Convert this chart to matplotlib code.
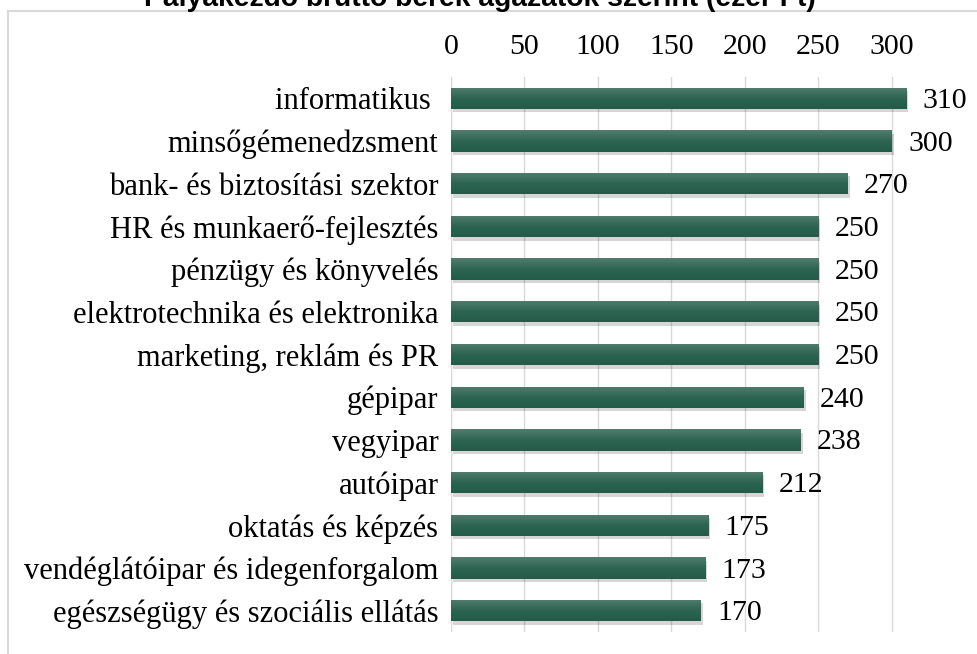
import matplotlib
matplotlib.use("Agg")
import matplotlib.pyplot as plt
import numpy as np
from matplotlib.patches import Rectangle
from matplotlib.lines import Line2D
from matplotlib.colors import LinearSegmentedColormap

categories = [
    "informatikus ",
    "minsőgémenedzsment",
    "bank- és biztosítási szektor",
    "HR és munkaerő-fejlesztés",
    "pénzügy és könyvelés",
    "elektrotechnika és elektronika",
    "marketing, reklám és PR",
    "gépipar",
    "vegyipar",
    "autóipar",
    "oktatás és képzés",
    "vendéglátóipar és idegenforgalom",
    "egészségügy és szociális ellátás",
]
values = [310, 300, 270, 250, 250, 250, 250, 240, 238, 212, 175, 173, 170]
ticks = [0, 50, 100, 150, 200, 250, 300]
title = "Pályakezdő bruttó bérek ágazatok szerint (ezer Ft)"

W, H = 978, 654
fig = plt.figure(figsize=(W / 100, H / 100), dpi=100)

# outer frame
fig.add_artist(Line2D([8 / W, 8 / W], [0, 1 - 11 / H], transform=fig.transFigure,
                      color="#d9d9d9", lw=1.5))
fig.add_artist(Line2D([8 / W, 1], [1 - 11 / H, 1 - 11 / H], transform=fig.transFigure,
                      color="#d9d9d9", lw=1.5))

# title (partially cut off at top, as in the reference)
fig.text(480 / W, 1 - 6 / H, title, ha="center", va="baseline",
         fontsize=20.3, fontweight="bold", family="Liberation Sans", color="#000000")

left, right = 451, 950
top, bottom = 77, 632
ax = fig.add_axes([left / W, 1 - bottom / H, (right - left) / W, (bottom - top) / H])

n = len(categories)
ys = list(range(n))
xmax = 300 * (right - left) / (892 - 451)

bh = 0.5
# shadow
for y, v in zip(ys, values):
    ax.add_patch(Rectangle((1.2, y - bh / 2 + 0.08), v, bh, color="#000000",
                           alpha=0.16, lw=0, zorder=2))
bars = ax.barh(ys, values, height=bh, color="#275e4d", zorder=3)
# vertical gradient inside each bar (lighter top -> darker bottom)
grad = np.linspace(0, 1, 64).reshape(-1, 1)
cmap = LinearSegmentedColormap.from_list("g", ["#527d6f", "#2d6452", "#235b49"])
for b in bars:
    x0, y0 = b.get_x(), b.get_y()
    w, h = b.get_width(), b.get_height()
    im = ax.imshow(grad, extent=[x0, x0 + w, y0 + h, y0], aspect="auto",
                   cmap=cmap, zorder=3.5, interpolation="bicubic")
    im.set_clip_path(b)
ax.set_xlim(0, xmax)
ax.set_ylim(n - 0.5, -0.5)

for y, v in zip(ys, values):
    ax.text(v + 11, y + 0.06, str(v), ha="left", va="center", fontsize=21.5,
            family="Liberation Serif", color="#000000", zorder=5)

ax.set_yticks(ys)
ax.set_yticklabels(categories, fontsize=22, family="Liberation Serif")
ax.set_xticks(ticks)
ax.set_xticklabels([str(t) for t in ticks], fontsize=21.5, family="Liberation Serif")
ax.xaxis.tick_top()
ax.tick_params(axis="x", length=0, pad=12)
ax.tick_params(axis="y", length=0, pad=9)
ax.grid(axis="x", color="#d9d9d9", lw=1, zorder=0)
ax.set_axisbelow(True)
for s in ax.spines.values():
    s.set_visible(False)
ax.axvline(0, color="#d9d9d9", lw=1, zorder=1)

fig.savefig("out.png", dpi=100)
